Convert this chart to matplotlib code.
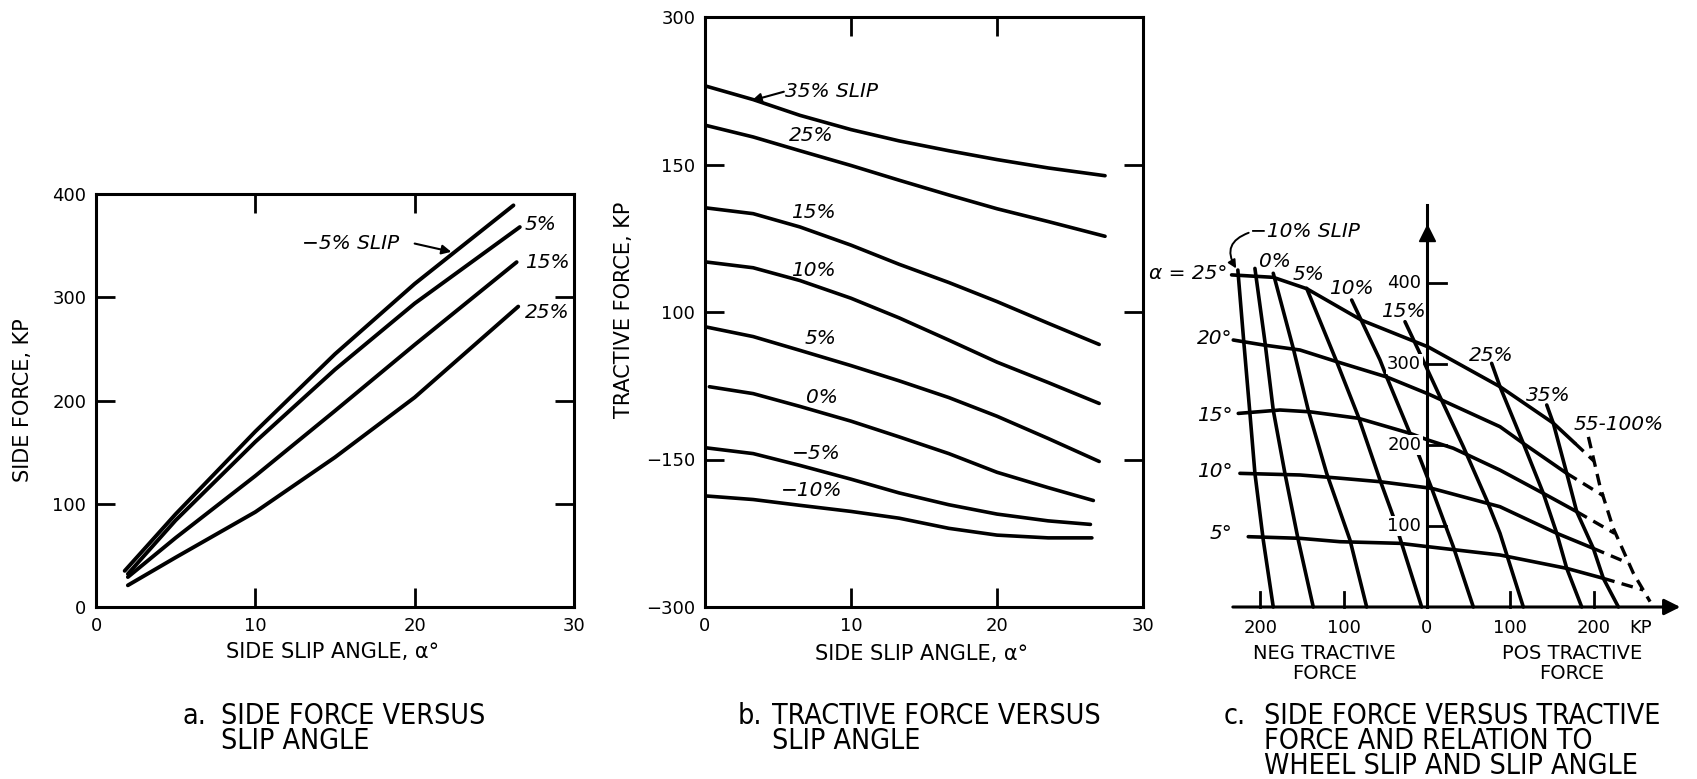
import matplotlib
matplotlib.use('Agg')
import matplotlib.pyplot as plt
from matplotlib import font_manager

W, H = 1697, 779

# ---- a. side force versus slip angle ----
a_labels = ['−5%', '5%', '15%', '25%']
a_angle = [[1.8, 5, 10, 15, 20, 26.2],
           [2.0, 5, 10, 15, 20, 26.6],
           [2.0, 5, 10, 15, 20, 26.4],
           [2.0, 5, 10, 15, 20, 26.5]]
a_side = [[35, 90, 170, 245, 313, 389],
          [32, 84, 160, 230, 294, 368],
          [29, 67, 127, 190, 254, 334],
          [21, 48, 92, 145, 203, 291]]

# ---- b. tractive force versus slip angle ----
b_labels = ['35%', '25%', '15%', '10%', '5%', '0%', '−5%', '−10%']
b_angle = [[0, 3.3, 6.5, 10, 13.3, 16.7, 20, 23.5, 27.4],
           [0, 3.3, 6.5, 10, 13.3, 16.7, 20, 23.5, 27.4],
           [0, 3.3, 6.5, 10, 13.3, 16.7, 20, 23.5, 27.0],
           [0, 3.3, 6.5, 10, 13.3, 16.7, 20, 23.5, 27.0],
           [0, 3.3, 6.5, 10, 13.3, 16.7, 20, 23.5, 27.0],
           [0.3, 3.3, 6.5, 10, 13.3, 16.7, 20, 23.5, 26.6],
           [0, 3.3, 6.5, 10, 13.3, 16.7, 20, 23.5, 26.4],
           [0, 3.3, 6.5, 10, 13.3, 16.7, 20, 23.5, 26.5]]
b_force = [[230, 216, 200, 185.5, 174, 164, 155, 146.5, 138.6],
           [190, 178, 164, 149, 134, 119, 105, 92, 77],
           [106, 100, 86.5, 68, 48.5, 30, 10.6, -11.4, -33],
           [51, 45, 32, 14, -6, -28.6, -51, -71.7, -93],
           [-15, -25, -39, -54.5, -70, -87, -106, -128.6, -152],
           [-76, -83, -96, -111, -127, -144, -163, -178.6, -191.7],
           [-138, -144, -156, -170, -184, -196, -205.5, -212.4, -216],
           [-187, -190.7, -196.6, -202.8, -209.7, -220, -226.9, -229.7, -229.7]]
b_yticks = [-300, -150, 0, 150, 300]
b_yticklabels = ['−300', '−150', '100', '150', '300']

# ---- c. side force versus tractive force (KP) ----
# lines of constant slip: tractive force, side force
c_slip_labels = ['−10%', '−5%', '0%', '5%', '10%', '15%', '25%', '35%']
c_slip_tf = [[-227, -220, -212.5, -206.5, -196.5, -184.5],
             [-206.5, -194.5, -184.5, -170.5, -154.5, -136.5],
             [-184.5, -160.5, -142.5, -120.4, -92.4, -72.4],
             [-144.4, -108.4, -82.4, -56.4, -40.4, -32.4, -6.4],
             [-90.4, -56.4, -48.4, -20.4, -8.4, 5.6, 31.6, 55.6],
             [-26.4, -10.4, 15.6, 43.6, 71.7, 87.6, 115.6],
             [77.6, 87.6, 115.6, 139.6, 155.7, 167.7, 185.7],
             [143.7, 151.6, 167.7, 179.7, 199.6, 211.6, 229.7]]
c_slip_sf = [[416, 329, 239, 165, 82.7, 0],
             [418, 327.5, 243, 165, 82.7, 0],
             [412, 319.4, 243, 165, 82.7, 0],
             [393.4, 302.9, 235, 156.8, 111.5, 84.8, 0],
             [379, 305, 284, 214.4, 183.6, 146.5, 74.4, 0],
             [352.2, 317.3, 259.6, 197.9, 132, 91, 0],
             [300.8, 272, 202, 140.3, 91, 47.7, 0],
             [249.4, 226.8, 165, 117.7, 72.4, 35.4, 0]]
lock_tf = [193.7, 207.7, 223.6, 247.7, 267.7]   # 55-100% slip
lock_sf = [210, 148.5, 97, 41.6, 6.6]

# lines of constant slip angle
c_alpha = [25, 20, 15, 10, 5]
c_alpha_tf = [[-234.5, -184.5, -144.4, -78.4, 1.6, 87.6, 151.6, 177.7],
              [-232.5, -196.5, -152.5, -108.4, -48.4, 1.6, 87.6, 115.6, 167.7],
              [-226.5, -176.5, -140.5, -82.4, -20.4, 1.6, 31.6, 87.6, 139.6, 179.7],
              [-224.5, -152.5, -104.4, -56.4, 5.6, 87.6, 155.7, 199.6],
              [-214.5, -152.5, -104.4, -32.4, 1.6, 87.6, 167.7, 211.6]]
c_alpha_sf = [[410, 407, 393, 354, 321, 272, 227, 202],
              [329.6, 323.5, 317.3, 302.9, 284, 263, 222.6, 202, 165],
              [239, 243.2, 241, 233, 214.4, 206, 196, 169, 140.3, 117.7],
              [165, 163, 159, 154.7, 146.5, 123.8, 91, 72.4],
              [86.8, 84.8, 80.6, 78.6, 74.4, 64.2, 47.7, 35.4]]
# dashed extension of each slip-angle line out to the 55-100% line
c_ext_tf = [[177.7, 200.5], [167.7, 212], [179.7, 225], [199.6, 242], [211.6, 259.5]]
c_ext_sf = [[202, 180], [165, 137], [117.7, 91], [72.4, 54], [35.4, 21]]

c_xticks = [-200, -100, 0, 100, 200]
c_xticklabels = ['200', '100', '0', '100', '200']
c_yticks = [100, 200, 300, 400]

plt.rcParams['font.family'] = ['DejaVu Sans']
fig = plt.figure(figsize=(W / 100, H / 100), dpi=100)


def box(l, t, r, b):
    return [l / W, 1 - b / H, (r - l) / W, (b - t) / H]


def fpos(x, y):
    return x / W, 1 - y / H


line_kw = dict(color='black', solid_capstyle='round', solid_joinstyle='round')
lab_kw = dict(fontsize=14.5, style='italic', va='center')
tick_fs = 13
axis_fs = 15

names = {f.name for f in font_manager.fontManager.ttflist}
if 'Liberation Sans Narrow' in names:
    cap_kw = dict(family='Liberation Sans Narrow', fontsize=23.5)
else:
    cap_kw = dict(family='DejaVu Sans', fontstretch='condensed', fontsize=20.5)


def frame(ax):
    for s in ax.spines.values():
        s.set_linewidth(2.2)
    ax.tick_params(direction='in', length=14, width=2, top=True, right=True,
                   labelsize=tick_fs, pad=7)


# a
ax = fig.add_axes(box(96, 194, 574, 607))
for ang, side in zip(a_angle, a_side):
    ax.plot(ang, side, lw=2.8, **line_kw)
ax.set_xlim(0, 30)
ax.set_ylim(0, 400)
ax.set_xticks([0, 10, 20, 30])
ax.set_yticks([0, 100, 200, 300, 400])
frame(ax)
ax.text(12.9, 352, a_labels[0] + ' SLIP', ha='left', **lab_kw)
ax.annotate('', xy=(22.3, 344), xytext=(20.0, 352),
            arrowprops=dict(arrowstyle='-|>', color='black', lw=1.5,
                            mutation_scale=14, shrinkA=0, shrinkB=0))
for lab, y in zip(a_labels[1:], [370, 334, 285]):
    ax.text(26.9, y, lab, ha='left', **lab_kw)
fig.text(*fpos(23, 400), 'SIDE FORCE, KP', rotation=90, ha='center', va='center', fontsize=axis_fs)
fig.text(*fpos(333, 652), 'SIDE SLIP ANGLE, α°', ha='center', va='center', fontsize=axis_fs)

# b
ax = fig.add_axes(box(705, 17, 1143, 607))
for ang, tf in zip(b_angle, b_force):
    ax.plot(ang, tf, lw=2.6, **line_kw)
ax.set_xlim(0, 30)
ax.set_ylim(-300, 300)
ax.set_xticks([0, 10, 20, 30])
ax.set_yticks(b_yticks)
ax.set_yticklabels(b_yticklabels)
frame(ax)
ax.text(5.5, 224, b_labels[0] + ' SLIP', ha='left', **lab_kw)
ax.annotate('', xy=(3.2, 215), xytext=(5.4, 224),
            arrowprops=dict(arrowstyle='-|>', color='black', lw=1.5,
                            mutation_scale=14, shrinkA=0, shrinkB=0))
for lab, x, y in zip(b_labels[1:], [7.3, 7.4, 7.4, 7.9, 8.0, 7.6, 7.3],
                     [179, 101, 42, -27, -87, -144, -182]):
    ax.text(x, y, lab, ha='center', **lab_kw)
fig.text(*fpos(624, 310), 'TRACTIVE FORCE, KP', rotation=90, ha='center', va='center', fontsize=axis_fs)
fig.text(*fpos(922, 654), 'SIDE SLIP ANGLE, α°', ha='center', va='center', fontsize=axis_fs)

# c
X0, Y0, SX, SY = 1427, 607, 0.8333, 0.81
ax = fig.add_axes(box(1140, 190, 1697, 700))
ax.set_xlim((1140 - X0) / SX, (1697 - X0) / SX)
ax.set_ylim((Y0 - 700) / SY, (Y0 - 190) / SY)
ax.axis('off')

for tf, sf in zip(c_alpha_tf, c_alpha_sf):
    ax.plot(tf, sf, lw=2.6, zorder=2, **line_kw)
for tf, sf in zip(c_ext_tf, c_ext_sf):
    ax.plot(tf, sf, lw=2.4, ls=(0, (3.5, 2.2)), color='black', zorder=2)
for tf, sf in zip(c_slip_tf, c_slip_sf):
    ax.plot(tf, sf, lw=2.6, zorder=2, **line_kw)
ax.plot(lock_tf, lock_sf, lw=2.4, ls=(0, (3.5, 2.2)), color='black', zorder=2)

# axes with arrows
ax.annotate('', xy=(304, 0), xytext=(-233, 0),
            arrowprops=dict(arrowstyle='-|>', color='black', lw=2.2,
                            mutation_scale=24, shrinkA=0, shrinkB=0), zorder=3)
ax.plot([0, 0], [0, 496], color='black', lw=2.2, zorder=3)
ax.plot([0], [462], marker='^', ms=11, color='black', zorder=3)
for t in [-200, -100, 100, 200]:
    ax.plot([t, t], [0, 19], color='black', lw=2, zorder=3)
for t in c_yticks:
    ax.plot([0, 23.4], [t, t], color='black', lw=2, zorder=3)
    ax.text(-7, t, str(t), ha='right', va='center', fontsize=tick_fs, zorder=4,
            bbox=dict(facecolor='white', edgecolor='none', pad=1))
for t, lab in zip(c_xticks, c_xticklabels):
    ax.text(t, -26, lab, ha='center', va='center', fontsize=tick_fs)
ax.text(256, -26, 'KP', ha='center', va='center', fontsize=tick_fs)
ax.text(-123, -70, 'NEG TRACTIVE\nFORCE', ha='center', va='center',
        fontsize=14, linespacing=1.05)
ax.text(174, -70, 'POS TRACTIVE\nFORCE', ha='center', va='center',
        fontsize=14, linespacing=1.05)

# slip angle labels
ax.text(-240, 412, 'α = 25°', ha='right', **lab_kw)
for a, y in zip(c_alpha[1:], [332, 237, 167, 91]):
    ax.text(-233, y, f'{a}°', ha='right', **lab_kw)

# slip labels
ax.text(-213, 463, c_slip_labels[0] + ' SLIP', ha='left', **lab_kw)
ax.annotate('', xy=(-229, 418), xytext=(-214, 462),
            arrowprops=dict(arrowstyle='-|>', color='black', lw=1.4,
                            mutation_scale=12, shrinkA=0, shrinkB=0,
                            connectionstyle='arc3,rad=0.6'))
for lab, x, y in zip(c_slip_labels[2:] + ['55-100%'],
                     [-182.5, -142.5, -90.4, -28.4, 77.6, 145.6, 229.7],
                     [426, 410, 393.5, 364.6, 311, 261.7, 224.7]):
    ax.text(x, y, lab, ha='center', zorder=5, **lab_kw)

# captions
captions = [(183, 221, ['SIDE FORCE VERSUS', 'SLIP ANGLE'], 'a.'),
            (738, 772, ['TRACTIVE FORCE VERSUS', 'SLIP ANGLE'], 'b.'),
            (1224, 1264, ['SIDE FORCE VERSUS TRACTIVE', 'FORCE AND RELATION TO',
                          'WHEEL SLIP AND SLIP ANGLE'], 'c.')]
for xl, xt, lines, tag in captions:
    fig.text(*fpos(xl, 716), tag, ha='left', va='center', **cap_kw)
    for i, line in enumerate(lines):
        fig.text(*fpos(xt, 716 + 25 * i), line, ha='left', va='center', **cap_kw)

fig.savefig('out.png', dpi=100, facecolor='white')
